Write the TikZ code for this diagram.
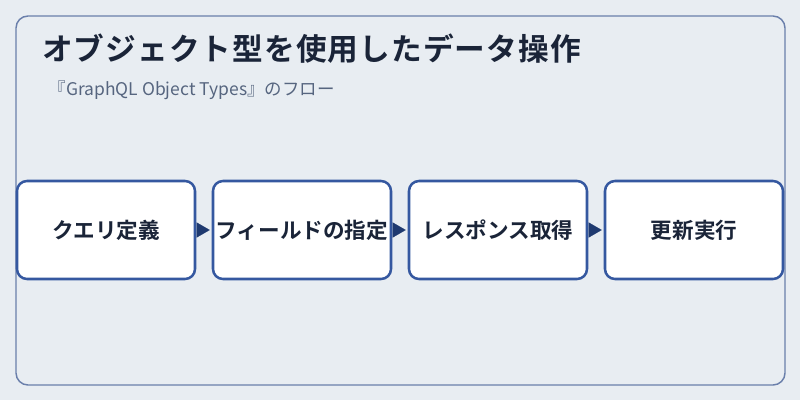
\documentclass[tikz,border=0pt]{standalone}
\usepackage{fontspec}
\setmainfont{Noto Sans CJK JP}
\newfontfamily\jpbold{Noto Sans CJK JP Bold}
\usetikzlibrary{arrows.meta}
\definecolor{bgc}{HTML}{E8EDF2}
\definecolor{framec}{HTML}{6A7FAB}
\definecolor{boxc}{HTML}{3558A0}
\definecolor{arrc}{HTML}{1F3A70}
\definecolor{titlec}{HTML}{1A2438}
\definecolor{subc}{HTML}{56657F}
\begin{document}
\begin{tikzpicture}[x=0.75pt,y=-0.75pt,
  stepbox/.style={draw=boxc,line width=1.9pt,fill=white,rounded corners=7.5pt,
    minimum width=133.5pt,minimum height=73.5pt,inner sep=0pt,
    font=\jpbold\fontsize{16.2pt}{19pt}\selectfont,text=titlec},
  arr/.style={line width=0.1pt,draw=arrc,-{Triangle[length=9.75pt,width=11.25pt]},
    shorten <=2.25pt,shorten >=1.5pt}]
\fill[bgc] (0,0) rectangle (800,400);
\useasboundingbox (0,0) rectangle (800,400);
\draw[framec,line width=1.1pt,rounded corners=9pt] (16,16) rectangle (785,385);
\node[anchor=west,inner sep=0pt,text=titlec,font=\jpbold\fontsize{23pt}{27pt}\selectfont\addfontfeature{LetterSpace=3.5}] (title) at (42,49) {オブジェクト型を使用したデータ操作};
\node[anchor=west,inner sep=0pt,text=subc,font=\fontsize{13.1pt}{16pt}\selectfont] (sub) at (48.5,90) {『GraphQL Object Types』のフロー};
\node[stepbox] (b1) at (106,230) {\raisebox{-1pt}{クエリ定義}};
\node[stepbox] (b2) at (302,230) {\raisebox{-1pt}{フィールドの指定}};
\node[stepbox] (b3) at (498,230) {\raisebox{-1pt}{レスポンス取得}};
\node[stepbox] (b4) at (694,230) {\raisebox{-1pt}{更新実行}};
\draw[arr] (b1) -- (b2);
\draw[arr] (b2) -- (b3);
\draw[arr] (b3) -- (b4);
\end{tikzpicture}
\end{document}
